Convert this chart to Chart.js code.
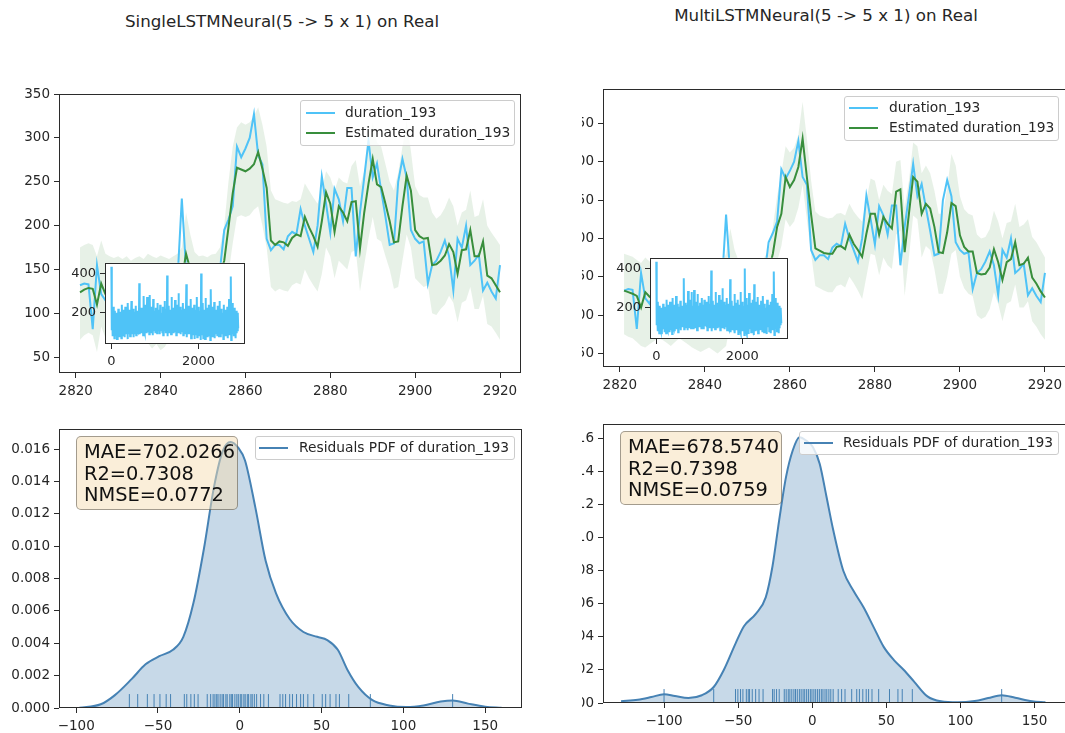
<!DOCTYPE html>
<html>
<head>
<meta charset="utf-8">
<script src="https://cdn.jsdelivr.net/npm/chart.js@4"></script>
<style>
body{margin:0;width:1065px;height:733px;overflow:hidden;background:#fff;position:relative;font-family:"DejaVu Sans",sans-serif;color:#262626}
canvas{position:absolute}
#derecha{position:absolute;left:582px;top:0;width:483px;height:733px;overflow:hidden}
.titulo{position:absolute;font-size:16.7px;white-space:nowrap;transform:translate(-50%,-50%);line-height:1}
.leyenda{position:absolute;background:rgba(255,255,255,0.8);border:1px solid #ccc;border-radius:3px;box-sizing:border-box}
.fila{position:absolute;font-size:13.8px;white-space:nowrap;line-height:1;transform:translateY(-50%)}
.linea{position:absolute;height:2px;transform:translateY(-50%)}
.caja{position:absolute;box-sizing:border-box;background:rgba(245,222,179,0.5);border:1px solid rgba(0,0,0,0.35);border-radius:5px;padding:4px 7px;font-size:19.4px;line-height:21.7px;color:#111;white-space:nowrap}
</style>
</head>
<body>
<div class="titulo" style="left:282px;top:21px">SingleLSTMNeural(5 -&gt; 5 x 1) on Real</div>
<canvas id="g_sup_izq"></canvas>
<canvas id="g_ins_izq"></canvas>
<canvas id="g_inf_izq"></canvas>
<div class="leyenda" style="left:300px;top:100px;width:215px;height:46px">
  <div class="linea" style="left:5px;top:12px;width:29px;background:#4fc3f7"></div>
  <div class="fila" style="left:44px;top:12px">duration_193</div>
  <div class="linea" style="left:5px;top:32px;width:29px;background:#388e3c"></div>
  <div class="fila" style="left:44px;top:32px">Estimated duration_193</div>
</div>
<div class="leyenda" style="left:255px;top:436px;width:260px;height:24px">
  <div class="linea" style="left:3px;top:11px;width:29px;background:#4682b4"></div>
  <div class="fila" style="left:43px;top:11px">Residuals PDF of duration_193</div>
</div>
<div class="caja" style="left:76px;top:436px;width:162px;height:74px">MAE=702.0266<br>R2=0.7308<br>NMSE=0.0772</div>

<div id="derecha">
  <div class="titulo" style="left:244px;top:15px">MultiLSTMNeural(5 -&gt; 5 x 1) on Real</div>
  <canvas id="g_sup_der"></canvas>
  <canvas id="g_ins_der"></canvas>
  <canvas id="g_inf_der"></canvas>
  <div class="leyenda" style="left:262px;top:96px;width:215px;height:45px">
    <div class="linea" style="left:4px;top:11px;width:29px;background:#4fc3f7"></div>
    <div class="fila" style="left:44px;top:11px">duration_193</div>
    <div class="linea" style="left:4px;top:31px;width:29px;background:#388e3c"></div>
    <div class="fila" style="left:44px;top:31px">Estimated duration_193</div>
  </div>
  <div class="leyenda" style="left:217px;top:431px;width:260px;height:24px">
    <div class="linea" style="left:4px;top:11px;width:29px;background:#4682b4"></div>
    <div class="fila" style="left:43px;top:11px">Residuals PDF of duration_193</div>
  </div>
  <div class="caja" style="left:38px;top:431px;width:162px;height:74px">MAE=678.5740<br>R2=0.7398<br>NMSE=0.0759</div>
</div>

<script>
// indices de tiempo 2821..2920
var indice = []
for (var k = 2821; k <= 2920; k++) indice.push(k)

var real_193 = [132,134,133,82,155,122,115,130,140,125,
  118,135,128,120,138,130,115,125,140,132,
  120,128,135,140,231,150,138,145,130,140,
  135,142,138,150,195,207,222,290,278,288,
  300,327,280,270,185,172,178,178,173,188,
  193,190,219,200,185,170,200,256,225,192,
  242,230,205,243,243,165,215,255,297,255,
  271,240,210,178,180,250,276,255,195,185,
  180,182,134,155,160,170,183,165,126,185,
  175,200,155,160,167,126,135,125,117,155]

var est_single = [124,127,129,128,110,134,122,118,128,132,
  125,120,128,126,122,130,128,120,125,133,
  128,123,128,134,138,168,150,140,138,140,
  137,139,140,145,160,198,237,266,264,262,
  265,270,284,265,243,183,178,182,181,177,
  186,190,188,210,198,188,176,205,238,225,
  193,222,215,205,227,228,174,215,248,276,
  247,244,225,205,181,182,222,257,240,195,
  188,185,186,155,156,160,166,179,170,145,
  172,173,195,165,165,182,143,140,132,124]

var sup_single = [175,178,180,178,165,183,168,165,163,165,
  162,165,160,163,165,162,168,165,163,166,
  164,162,165,168,175,215,190,170,165,166,
  164,167,168,175,200,250,290,312,318,315,
  318,325,335,315,290,240,230,228,226,225,
  228,227,230,248,240,232,225,240,262,255,
  240,255,250,248,268,275,245,262,290,318,
  295,290,270,250,240,260,290,320,285,245,
  235,232,232,215,208,212,220,232,222,200,
  215,218,240,210,212,230,200,192,185,178]

var inf_single = [70,75,78,75,56,85,72,68,76,80,
  74,70,76,75,70,78,66,60,65,58,
  62,70,75,78,85,110,95,85,80,82,
  80,84,86,92,110,145,180,210,212,210,
  212,218,222,200,175,130,125,128,126,125,
  132,135,133,150,140,132,125,145,175,165,
  140,160,155,150,170,172,125,155,185,210,
  185,182,165,150,128,130,160,190,175,140,
  135,130,132,100,98,105,110,120,112,90,
  112,115,130,105,105,120,88,85,78,70]

var est_multi = [132,130,128,125,110,130,124,120,126,130,
  124,118,125,128,122,126,120,115,120,125,
  122,118,120,126,132,160,145,135,132,136,
  134,137,140,146,158,180,215,232,280,267,
  276,293,330,280,231,187,184,181,180,180,
  189,190,186,205,193,185,176,206,232,232,
  205,228,219,213,261,264,182,232,280,274,
  232,245,239,215,182,181,208,246,242,204,
  189,183,183,155,153,154,162,186,169,146,
  169,173,195,165,167,175,149,141,131,123]

var sup_multi = [180,178,176,172,168,175,170,166,164,168,
  165,162,166,168,164,160,163,166,162,165,
  163,160,165,168,180,213,185,170,168,169,
  167,168,170,175,185,215,255,285,320,312,
  318,335,378,330,275,235,230,228,226,227,
  232,233,230,245,235,228,222,250,278,275,
  250,270,262,258,300,302,240,275,325,320,
  285,295,285,262,232,232,265,310,295,255,
  238,232,230,205,200,202,212,236,222,200,
  220,222,245,215,218,225,202,195,185,175]

var inf_multi = [75,72,70,65,60,58,62,66,70,68,
  64,60,65,70,66,62,58,55,52,55,
  58,54,50,55,60,90,75,68,70,72,
  70,75,78,85,100,130,170,190,225,215,
  222,240,270,225,180,138,135,132,130,130,
  138,140,136,150,142,132,121,150,180,178,
  152,175,165,160,205,210,125,175,230,225,
  175,190,185,160,128,128,150,180,185,150,
  135,128,125,100,95,98,108,130,115,92,
  115,118,140,110,110,118,92,85,75,68]

// serie completa (recuadro): picos y valles cada 20 muestras
var completa_altos = [435,190,230,180,210,175,200,185,220,190,
  205,180,240,195,215,185,230,200,190,250,
  200,215,185,260,195,220,205,190,235,200,
  210,185,350,200,225,190,215,285,200,240,
  195,280,210,185,290,205,230,195,270,210,
  190,225,205,250,195,215,240,200,185,230,
  210,260,195,220,390,205,235,190,215,280,
  200,225,210,265,195,240,210,300,205,230,
  215,190,250,205,220,200,345,215,235,195,
  210,270,200,225,190,240,205,215,280,200,
  230,195,210,400,205,250,215,190,275,210,
  225,200,240,195,320,210,230,195,255,205,
  215,190,235,205,260,195,220,200,185,240,
  205,215,195,230,210,270,200,385,215,250,
  195,225,205,210,190,200]
var completa_bajos = [110,80,95,70,100,85,65,105,90,75,
  100,70,95,85,110,75,100,90,65,105,
  95,80,110,90,100,75,115,95,85,105,
  100,110,90,120,95,105,85,115,100,110,
  95,120,105,90,115,100,110,85,120,105,
  100,115,95,110,120,90,105,115,100,85,
  110,120,95,105,80,115,100,110,90,120,
  105,95,115,100,85,110,120,95,105,90,
  100,115,85,105,95,110,75,100,90,115,
  95,70,105,85,100,65,110,90,75,100,
  80,95,60,105,85,70,100,65,90,110,
  75,95,85,60,100,80,105,90,70,100,
  95,85,110,80,100,75,105,90,65,100,
  110,80,95,70,105,85,100,60,95,110,
  80,100,70,95,110,120]

// densidad de residuos
var kde_x_single = [-98,-85,-76.5,-66,-57.6,-49.2,-40.8,-34.5,-28.3,-22,-15.7,-10.4,-5.6,-1,3.2,9.5,15.8,22.1,30.5,38.9,47.3,53.5,59.9,66.1,72.4,80.8,91.3,101.8,112.3,122.8,130.1,139.5,150,160]
var kde_y_single = [0.00002,0.00023,0.00078,0.0018,0.0027,0.0032,0.0036,0.0044,0.0065,0.0098,0.0137,0.0159,0.01645,0.0161,0.0153,0.0124,0.0091,0.0071,0.0055,0.0047,0.0044,0.0042,0.0036,0.0023,0.0013,0.0005,0.00016,0.00006,0.00016,0.0004,0.00047,0.00027,0.00008,0.00001]
var rug_single = [-67.5,-62.4,-56.5,-52.4,-48.8,-45,-42.3,-33.9,-32.4,-29.9,-27.8,-25.5,-19.9,-17.8,
  -16.3,-15.2,-14.1,-13.3,-12,-10.8,-9.9,-8.5,-7.7,-6.1,-5.2,-4.4,-3,-1.8,-0.9,0.3,1.2,2.5,3.3,4.6,5.4,6.8,7.6,8.9,10.3,
  12.7,14.7,17.5,24.6,26.3,28,30.5,32.2,34.7,37.2,38.9,41.6,45.2,50.4,52.5,55.2,58.8,60.9,66.6,79.8,130.1]

var kde_x_multi = [-129,-117.7,-108.6,-100,-92.7,-83.6,-74.5,-66.5,-59.7,-51.8,-46.1,-38.1,-31.4,-26.8,-22.3,-17.7,-13.2,-8.6,-4.1,0.5,5,9.6,14.1,21,27.8,34.6,41.4,48.2,55.1,61.8,68.7,77.7,86.8,98.2,109.6,118.7,127.8,136.9,148.2,157.3]
var kde_y_multi = [0.0001,0.0002,0.00036,0.00053,0.00042,0.0003,0.00047,0.00097,0.002,0.0036,0.00465,0.0054,0.0064,0.0083,0.0111,0.0137,0.0153,0.0161,0.0159,0.0155,0.0145,0.0125,0.0105,0.008,0.0068,0.0058,0.0046,0.0034,0.0026,0.002,0.0013,0.0004,0.0001,0.00004,0.00012,0.0003,0.00047,0.00032,0.0001,0.00004]
var rug_multi = [-100,-66.5,-51.8,-50.2,-48.4,-46.8,-44.5,-43.2,-42.3,-40.5,-38.2,-35.9,-33.2,-26.8,-25.7,-24.1,-22.3,
  -18.9,-17.6,-16.2,-15.1,-13.8,-12.4,-11.3,-10.1,-8.7,-7.5,-6.2,-5.1,-3.8,-2.6,-1.3,-0.2,1.1,2.3,3.6,4.8,6.1,7.2,8.6,9.8,11.2,12.5,14.1,
  17.5,19.8,22.1,26.6,30,31.8,34.1,36.4,38,40.3,44.8,52.1,57.8,60.7,67.5,127.8]

var marcas_tiempo = [2820,2840,2860,2880,2900,2920]
var marcas_duracion = [50,100,150,200,250,300,350]
var marcas_ins_x = [0,2000]
var marcas_ins_y = [200,400]
var marcas_res_x = [-100,-50,0,50,100,150]
var marcas_res_y = [0,0.002,0.004,0.006,0.008,0.010,0.012,0.014,0.016]

var AZUL = '#4fc3f7', VERDE = '#388e3c', BANDA = 'rgba(56,142,60,0.12)'
var ACERO = '#4682b4', ACERO_SOMBRA = 'rgba(70,130,180,0.3)'

Chart.defaults.font.family = "'DejaVu Sans', sans-serif"
Chart.defaults.color = '#262626'
Chart.defaults.animation = false
Chart.defaults.plugins.legend.display = false
Chart.defaults.plugins.tooltip.enabled = false
Chart.defaults.elements.point.radius = 0

// recuadro negro alrededor del area y fondo blanco opcional
var marco = {
  id: 'marco',
  beforeDraw: function (chart, args, opts) {
    if (!opts.fondo) return
    var a = chart.chartArea, ctx = chart.ctx
    ctx.save(); ctx.fillStyle = opts.fondo
    ctx.fillRect(a.left, a.top, a.right - a.left, a.bottom - a.top); ctx.restore()
  },
  afterDraw: function (chart) {
    var a = chart.chartArea, ctx = chart.ctx
    ctx.save(); ctx.strokeStyle = '#2b2b2b'; ctx.lineWidth = 1
    ctx.strokeRect(Math.round(a.left) + 0.5, Math.round(a.top) + 0.5, Math.round(a.right - a.left) - 1, Math.round(a.bottom - a.top) - 1)
    ctx.restore()
  }
}

function puntos(xs, ys) {
  return xs.map(function (x, i) { return { x: x, y: ys[i] } })
}
function intercalar(altos, bajos) {
  var r = []
  altos.forEach(function (v, i) { r.push({ x: i * 20, y: v }); r.push({ x: i * 20 + 10, y: bajos[i] }) })
  return r
}
function alfombra(valores, alto) {
  var r = []
  valores.forEach(function (v) { r.push({ x: v, y: 0 }, { x: v, y: alto }, { x: v, y: null }) })
  return r
}
function menos(v) { return v < 0 ? '\u2212' + Math.abs(v) : String(v) }

function eje(min, max, marcas, formato, esX, fuente) {
  return {
    type: 'linear', min: min, max: max,
    afterBuildTicks: function (s) { s.ticks = marcas.map(function (v) { return { value: v } }) },
    ticks: { callback: formato, font: { size: fuente || 13.5 }, color: '#262626', padding: esX ? 5 : 4, maxRotation: 0, autoSkip: false },
    grid: { drawOnChartArea: false, drawTicks: true, tickLength: 5, color: '#2b2b2b', tickWidth: 1 },
    border: { display: false }
  }
}

// caja = area de trazado en px, m = margenes alrededor, dx = origen del contenedor
function grafica(id, caja, m, dx, datasets, ejeX, ejeY, fondo) {
  var lienzo = document.getElementById(id)
  lienzo.width = (caja.r - caja.l) + m.l + m.r
  lienzo.height = (caja.b - caja.t) + m.t + m.b
  lienzo.style.left = (caja.l - m.l - dx) + 'px'
  lienzo.style.top = (caja.t - m.t) + 'px'
  ejeY.afterFit = function (s) { s.width = m.l }
  ejeX.afterFit = function (s) { s.height = m.b }
  return new Chart(lienzo, {
    type: 'line',
    data: { datasets: datasets },
    options: {
      responsive: false, devicePixelRatio: 1,
      layout: { padding: { left: 0, top: m.t, right: m.r, bottom: 0 } },
      scales: { x: ejeX, y: ejeY },
      plugins: { marco: { fondo: fondo } }
    },
    plugins: [marco]
  })
}

function seriesTiempo(estimado, sup, inf) {
  return [
    { data: puntos(indice, estimado), borderColor: VERDE, borderWidth: 2, fill: false },
    { data: puntos(indice, real_193), borderColor: AZUL, borderWidth: 2, fill: false },
    { data: puntos(indice, sup), borderWidth: 0, borderColor: 'rgba(0,0,0,0)', backgroundColor: BANDA, fill: '+1' },
    { data: puntos(indice, inf), borderWidth: 0, borderColor: 'rgba(0,0,0,0)', fill: false }
  ]
}
function seriesResiduos(kx, ky, rug, ymax) {
  return [
    { data: alfombra(rug, ymax * 0.05), borderColor: ACERO, borderWidth: 1, fill: false, spanGaps: false },
    { data: puntos(kx, ky), borderColor: ACERO, borderWidth: 2, backgroundColor: ACERO_SOMBRA, fill: 'origin', cubicInterpolationMode: 'monotone' }
  ]
}
function seriesRecuadro() {
  return [{ data: intercalar(completa_altos, completa_bajos), borderColor: AZUL, borderWidth: 2, fill: false }]
}
var fmt = function (v) { return String(v) }
var fmt3 = function (v) { return v.toFixed(3) }

// izquierda
grafica('g_sup_izq', { l: 59, t: 94, r: 521, b: 373 }, { l: 59, t: 12, r: 12, b: 30 }, 0,
  seriesTiempo(est_single, sup_single, inf_single),
  eje(2816.05, 2924.95, marcas_tiempo, fmt, true),
  eje(32, 350, marcas_duracion, fmt, false))
grafica('g_ins_izq', { l: 105, t: 261, r: 245, b: 344 }, { l: 40, t: 10, r: 6, b: 24 }, 0,
  seriesRecuadro(),
  eje(-146, 3066, marcas_ins_x, fmt, true, 13),
  eje(40, 455, marcas_ins_y, fmt, false, 13), '#ffffff')
grafica('g_inf_izq', { l: 59, t: 429, r: 522, b: 708 }, { l: 59, t: 12, r: 12, b: 25 }, 0,
  seriesResiduos(kde_x_single, kde_y_single, rug_single, 0.01724),
  eje(-110.5, 172.5, marcas_res_x, menos, true),
  eje(0, 0.01724, marcas_res_y, fmt3, false))

// derecha (recortada por el contenedor)
grafica('g_sup_der', { l: 603, t: 89, r: 1066, b: 367 }, { l: 60, t: 12, r: 12, b: 30 }, 582,
  seriesTiempo(est_multi, sup_multi, inf_multi),
  eje(2816.05, 2924.95, marcas_tiempo, fmt, true),
  eje(32.5, 394.5, marcas_duracion, fmt, false))
grafica('g_ins_der', { l: 650, t: 256, r: 788, b: 339 }, { l: 40, t: 10, r: 6, b: 24 }, 582,
  seriesRecuadro(),
  eje(-146, 3066, marcas_ins_x, fmt, true, 13),
  eje(40, 455, marcas_ins_y, fmt, false, 13), '#ffffff')
grafica('g_inf_der', { l: 603, t: 424, r: 1066, b: 703 }, { l: 60, t: 12, r: 12, b: 28 }, 582,
  seriesResiduos(kde_x_multi, kde_y_multi, rug_multi, 0.0169),
  eje(-141.2, 171.2, marcas_res_x, menos, true),
  eje(0, 0.0169, marcas_res_y, fmt3, false))
</script>
</body>
</html>
